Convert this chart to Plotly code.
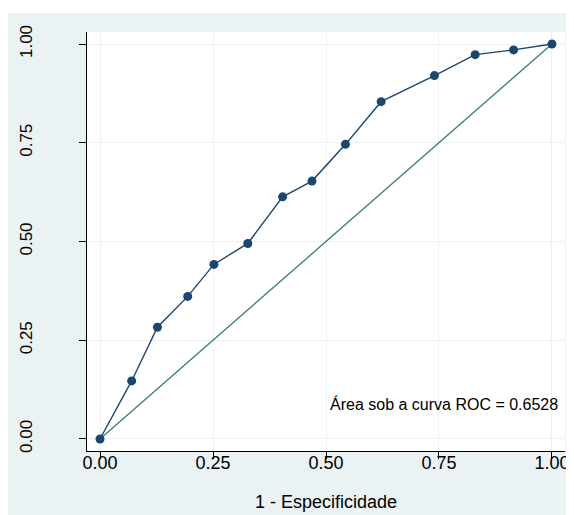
import plotly.graph_objects as go

# ROC curve points (1 - specificity, sensitivity)
fpr = [0.0, 0.070, 0.127, 0.194, 0.252, 0.327, 0.404, 0.469, 0.543, 0.622, 0.740, 0.830, 0.915, 1.0]
tpr = [0.0, 0.147, 0.283, 0.361, 0.442, 0.495, 0.613, 0.653, 0.746, 0.854, 0.920, 0.973, 0.985, 1.0]
ref_x = [0.0, 1.0]
ref_y = [0.0, 1.0]
tick_vals = [0, 0.25, 0.5, 0.75, 1.0]
tick_text = ["0.00", "0.25", "0.50", "0.75", "1.00"]
x_title = "1 - Especificidade"
auc_label = "Área sob a curva ROC = 0.6528"

BG = "#EAF2F3"
NAVY = "#1A476F"
GREEN = "#3A7D6C"
FONT = "Liberation Sans, Arial, sans-serif"

fig = go.Figure()
fig.add_trace(go.Scatter(x=ref_x, y=ref_y, mode="lines",
                         line=dict(color=GREEN, width=1.3), hoverinfo="skip"))
fig.add_trace(go.Scatter(x=fpr, y=tpr, mode="lines+markers",
                         line=dict(color=NAVY, width=1.4),
                         marker=dict(color=NAVY, size=9)))

fig.add_annotation(x=1.0177, y=0.0886, xref="x", yref="y", text=auc_label,
                   showarrow=False, xanchor="right", yanchor="middle",
                   font=dict(family=FONT, size=16, color="black"))

W, H = 566, 507
L, R, T, B = 79, 9, 24, 64
pw, ph = W - L - R, H - T - B
# thin white strip along the top of the figure
fig.add_shape(type="rect", xref="paper", yref="paper", layer="below",
              x0=-1, x1=2, y0=(ph + 19) / ph, y1=2,
              fillcolor="white", line_width=0)

fig.update_layout(
    width=W, height=H,
    margin=dict(l=L, r=R, t=T, b=B, pad=0, autoexpand=False),
    paper_bgcolor=BG, plot_bgcolor="white",
    showlegend=False,
    font=dict(family=FONT, color="black"),
)
fig.update_xaxes(range=[-0.0288, 1.0288], tickvals=tick_vals, ticktext=tick_text,
                 automargin=False,
                 showgrid=True, gridcolor=BG, gridwidth=1.2, zeroline=False,
                 showline=True, linecolor="black", linewidth=1,
                 ticks="outside", ticklen=7, tickcolor="black",
                 ticklabelstandoff=-12,
                 tickfont=dict(size=18, family=FONT),
                 title=dict(text=x_title, font=dict(size=18, family=FONT), standoff=23))
fig.update_yaxes(range=[-0.0304, 1.0304], tickvals=tick_vals, ticktext=tick_text,
                 automargin=False,
                 showgrid=True, gridcolor=BG, gridwidth=1.2, zeroline=False,
                 showline=True, linecolor="black", linewidth=1,
                 ticks="outside", ticklen=7, tickcolor="black", tickangle=-90,
                 ticklabelstandoff=40,
                 tickfont=dict(size=17, family=FONT))

fig.write_html("out.html")
